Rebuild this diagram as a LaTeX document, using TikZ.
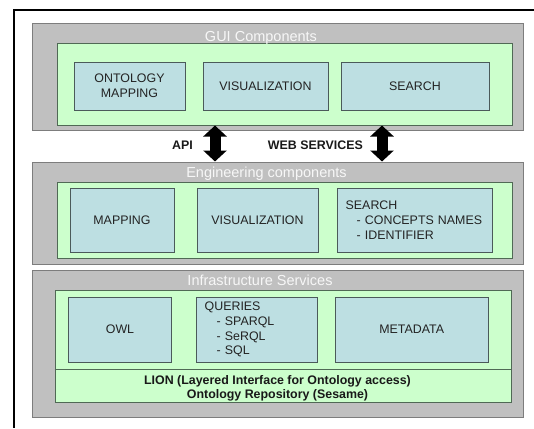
\documentclass[tikz,border=0pt]{standalone}
\usepackage{fontspec}
\setmainfont{Liberation Sans}
\usetikzlibrary{arrows.meta,positioning,calc}

\definecolor{layergray}{RGB}{192,192,192}
\definecolor{layerline}{RGB}{125,125,125}
\definecolor{bandgreen}{RGB}{204,255,204}
\definecolor{bandline}{RGB}{80,105,85}
\definecolor{compblue}{RGB}{189,223,226}
\definecolor{compline}{RGB}{75,90,90}
\definecolor{compfont}{RGB}{35,35,35}

\tikzset{
    % Layer style - grey outer panels
    layer/.style={
        rectangle,
        draw=layerline,
        fill=layergray,
        line width=1pt,
        inner sep=0pt
    },
    % Band style - green inner panels
    band/.style={
        rectangle,
        draw=bandline,
        fill=bandgreen,
        line width=1pt,
        inner sep=0pt
    },
    % Component style - blue boxes, centred text
    comp/.style={
        rectangle,
        draw=compline,
        fill=compblue,
        line width=0.9pt,
        text=compfont,
        align=center,
        inner sep=0pt,
        font=\fontsize{12.4}{14.8}\selectfont
    },
    % List style - blue boxes, text on the left
    listcomp/.style={
        comp,
        align=left,
        inner xsep=8.7pt
    },
    % Layer title - white text
    layertitle/.style={
        text=white!94!gray,
        inner sep=0pt,
        font=\fontsize{14.5}{17}\selectfont
    },
    % Bold label style
    boldlabel/.style={
        text=black!90,
        inner sep=0pt,
        align=center,
        font=\fontsize{12.4}{14}\selectfont\bfseries
    },
    % Thick double arrow
    bigarrow/.style={
        {Triangle[width=23pt,length=11pt]}-{Triangle[width=23pt,length=11pt]},
        line width=11pt,
        draw=black
    },
    % Page frame
    pageframe/.style={
        draw=black,
        line width=2.4pt
    }
}

\begin{document}
\begin{tikzpicture}[x=1pt, y=-1pt]

    \useasboundingbox (0,0) rectangle (534,428);

    % ========== FRAME ==========
    \draw[pageframe] (534,10) -- (14,10) -- (14,428);

    % ========== GUI COMPONENTS ==========
    \node[layer, minimum width=491pt, minimum height=106pt] (gui) at (277.5,77) {};
    \node[band, minimum width=455pt, minimum height=81pt] (guiband) at (284.5,84.5) {};
    \node[layertitle, anchor=base] (guititle) at (261,41.2) {GUI Components};

    \node[comp, minimum width=111pt, minimum height=48pt] (ontmap) at (129.5,86) {ONTOLOGY\\MAPPING};
    \node[comp, minimum width=125pt, minimum height=48pt] (guivis) at (265.5,86) {VISUALIZATION};
    \node[comp, minimum width=148pt, minimum height=48pt] (guisearch) at (415,86) {SEARCH};

    % ========== ENGINEERING COMPONENTS ==========
    \node[layer, minimum width=491pt, minimum height=102pt] (eng) at (277.5,213) {};
    \node[band, minimum width=455pt, minimum height=76pt] (engband) at (284.5,220) {};
    \node[layertitle, anchor=base] (engtitle) at (266.5,177.7) {Engineering components};

    \node[comp, minimum width=104pt, minimum height=64pt] (engmap) at (122,220) {MAPPING};
    \node[comp, minimum width=121pt, minimum height=64pt] (engvis) at (257.5,220) {VISUALIZATION};
    \node[listcomp, text width=137.6pt, minimum height=64pt] (engsearch) at (414.5,220)
        {SEARCH\\\hspace*{11pt}- CONCEPTS NAMES\\\hspace*{11pt}- IDENTIFIER};

    % ========== INFRASTRUCTURE SERVICES ==========
    \node[layer, minimum width=491pt, minimum height=147pt] (infra) at (277.5,343.5) {};
    \node[band, minimum width=456pt, minimum height=112pt] (infraband) at (283,346) {};
    \node[layertitle, anchor=base] (infratitle) at (260,285.6) {Infrastructure Services};

    \node[comp, minimum width=103pt, minimum height=65pt] (owl) at (120,329.5) {OWL};
    \node[listcomp, text width=104.1pt, minimum height=65pt] (queries) at (256.75,329.5)
        {QUERIES\\\hspace*{12pt}- SPARQL\\\hspace*{12pt}- SeRQL\\\hspace*{12pt}- SQL};
    \node[comp, minimum width=153.5pt, minimum height=65pt] (metadata) at (411.75,329.5) {METADATA};

    % LION strip
    \coordinate (lionline) at (0,369);
    \draw[draw=bandline, line width=1pt] (infraband.west |- lionline) -- (infraband.east |- lionline);
    \node[boldlabel] (lion) at (277.5,388) {LION (Layered Interface for Ontology access)\\Ontology Repository (Sesame)};

    % ========== CONNECTIONS ==========
    \coordinate (apix) at (215,0);
    \coordinate (wsx) at (382,0);

    \draw[bigarrow] (apix |- guiband.south) -- (apix |- eng.north);
    \draw[bigarrow] (wsx |- guiband.south) -- (wsx |- eng.north);

    \node[boldlabel, anchor=base east] (apilabel) at (193,149.5) {API};
    \node[boldlabel, anchor=base east] (wslabel) at (363,149.5) {WEB SERVICES};

\end{tikzpicture}
\end{document}
